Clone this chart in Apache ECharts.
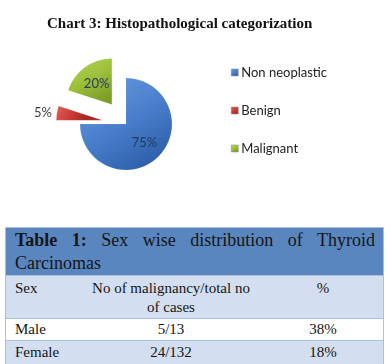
<!DOCTYPE html>
<html><head><meta charset="utf-8">
<script src="https://cdn.jsdelivr.net/npm/echarts@6/dist/echarts.min.js"></script>
<style>
html,body{margin:0;padding:0;background:#fff;width:386px;height:364px;overflow:hidden;}
#chart{position:absolute;left:0;top:0;width:386px;height:364px;}
#tbl{position:absolute;left:5px;top:227px;width:379px;font-family:"Liberation Serif","Times New Roman",serif;color:#151515;border:1px solid #a9c0e0;box-sizing:border-box;}
.row{position:relative;box-sizing:border-box;border-top:1px solid #a9c0e0;}
.row:first-child{border-top:none;}
.c{position:absolute;white-space:nowrap;}
</style>
</head><body>
<div id="chart"></div>
<div id="tbl"></div>
<script>
const chartTitle = "Chart 3: Histopathological categorization";
const categories = ["Non neoplastic", "Benign", "Malignant"];
const values = [75, 5, 20];
const colors = ["#4a80cc", "#cc3b37", "#9cbf3b"];
const colorsLight = ["#6a9ce0", "#e0605a", "#b5d65a"];
const colorsDark = ["#2f62ad", "#a82824", "#7f9e28"];

const tableTitleBold = "Table 1:";
const tableTitleRest = " Sex wise distribution of Thyroid Carcinomas";
const tableHeader = ["Sex", "No of malignancy/total no|of cases", "%"];
const tableRows = [
  ["Male", "5/13", "38%"],
  ["Female", "24/132", "18%"]
];

const chart = echarts.init(document.getElementById('chart'), null, {renderer: 'canvas'});
const data = categories.map((c, i) => {
  const d = {name: c, value: values[i], itemStyle: {
    color: new echarts.graphic.LinearGradient(0, 0, 0.6, 1, [
      {offset: 0, color: colorsLight[i]},
      {offset: 0.55, color: colors[i]},
      {offset: 1, color: colorsDark[i]}
    ])
  }};
  if (i > 0) d.selected = true;
  if (i === 1) d.label = {position: 'outside', color: '#404040'};
  return d;
});
chart.setOption({
  animation: false,
  color: colors,
  title: {
    text: chartTitle, left: 42, top: 12,
    textStyle: {fontFamily: 'Liberation Serif', fontWeight: 'bold', fontSize: 15, color: '#111'}
  },
  legend: {
    orient: 'vertical', left: 226, top: 61, itemGap: 25,
    itemWidth: 7, itemHeight: 7, icon: 'rect',
    data: categories,
    itemStyle: {borderColor: '#888', borderWidth: 0.5},
    textStyle: {fontFamily: 'Lato', fontSize: 13, color: '#222', padding: [0, 0, 0, -2]}
  },
  series: [{
    type: 'pie',
    center: [126, 124],
    radius: 46,
    startAngle: 90,
    clockwise: true,
    selectedMode: 'multiple',
    selectedOffset: 24,
    data: data,
    itemStyle: {borderColor: 'rgba(255,255,255,0.2)', borderWidth: 0.5},
    label: {
      show: true, position: 'inside', formatter: '{c}%',
      fontFamily: 'Lato', fontSize: 13, color: '#233a5c'
    },
    labelLine: {show: false, length: 0, length2: 0},
    emphasis: {disabled: true}
  }]
});

// table
const tbl = document.getElementById('tbl');
function row(h, bg, html) {
  const r = document.createElement('div');
  r.className = 'row';
  r.style.height = h + 'px';
  r.style.background = bg;
  r.innerHTML = html;
  tbl.appendChild(r);
}
row(47, '#5a86c0',
  '<div style="padding:1px 8px 0 9px;font-size:18px;line-height:23px;text-align:justify;text-align-last:left;">' +
  '<b>' + tableTitleBold + '</b>' + tableTitleRest + '</div>');
const h2 = tableHeader[1].split('|');
row(43, '#d3dff0',
  '<div class="c" style="left:9px;top:3px;font-size:15px;line-height:19px;">' + tableHeader[0] + '</div>' +
  '<div class="c" style="left:85px;width:160px;top:3px;font-size:15px;line-height:19px;text-align:center;">' + h2[0] + '<br>' + h2[1] + '</div>' +
  '<div class="c" style="left:292px;width:50px;top:3px;font-size:15px;line-height:19px;text-align:center;">' + tableHeader[2] + '</div>');
const rowBg = ['#ffffff', '#d3dff0'];
const rowH = [22, 24];
tableRows.forEach((r, i) => {
  row(rowH[i], rowBg[i],
    '<div class="c" style="left:9px;top:0;font-size:15px;line-height:' + (rowH[i]-2) + 'px;">' + r[0] + '</div>' +
    '<div class="c" style="left:85px;width:160px;top:0;font-size:15px;line-height:' + (rowH[i]-2) + 'px;text-align:center;">' + r[1] + '</div>' +
    '<div class="c" style="left:292px;width:50px;top:0;font-size:15px;line-height:' + (rowH[i]-2) + 'px;text-align:center;">' + r[2] + '</div>');
});
</script>
</body></html>
